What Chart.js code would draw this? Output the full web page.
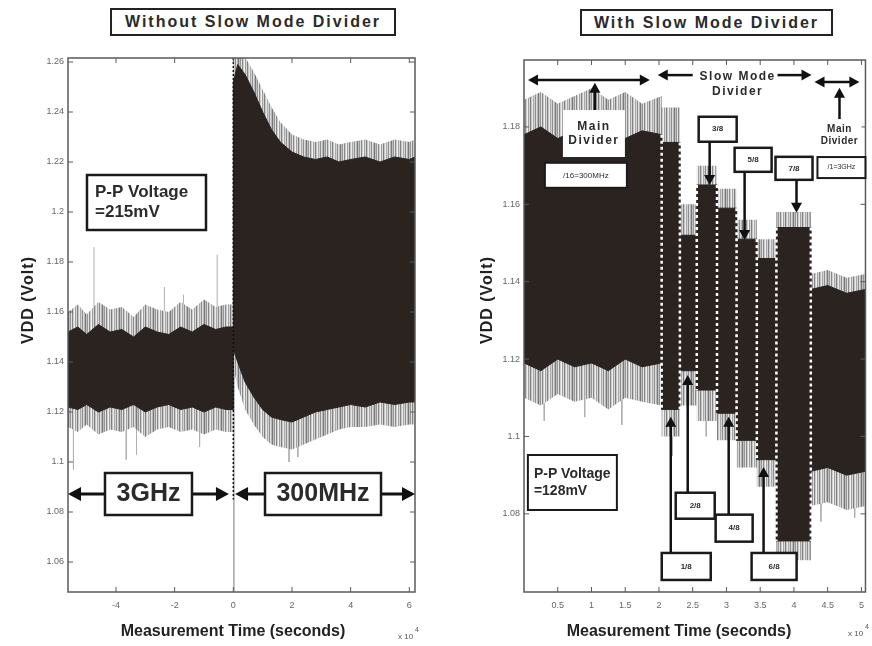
<!DOCTYPE html>
<html>
<head>
<meta charset="utf-8">
<script src="https://cdn.jsdelivr.net/npm/chart.js@4.4.1/dist/chart.umd.min.js"></script>
<style>
  html, body { margin: 0; padding: 0; background: #fff; }
  #wrap { position: relative; width: 872px; height: 646px; overflow: hidden; }
  canvas { position: absolute; top: 0; }
  .title {
    position: absolute; box-sizing: border-box; border: 2px solid #222; background: #fff;
    font: bold 16px "Liberation Sans", Arial, sans-serif; letter-spacing: 2px; color: #2a2a2a;
    display: flex; align-items: center; justify-content: center;
  }
</style>
</head>
<body>
<div id="wrap">
  <canvas id="left" width="436" height="646" style="left:0"></canvas>
  <canvas id="right" width="436" height="646" style="left:436px"></canvas>
  <div class="title" style="left:110px;top:8px;width:286px;height:28px">Without Slow Mode Divider</div>
  <div class="title" style="left:580px;top:9px;width:253px;height:27px">With Slow Mode Divider</div>
</div>
<script>
// time in units of 1e4 s, voltage in V
const leftTime = [-5.64, -5.3, -5.0, -4.6, -4.2, -3.8, -3.4, -3.0, -2.6, -2.2, -1.8, -1.4, -1.0, -0.6, -0.25,
  0, 0, 0.15, 0.4, 0.7, 1.0, 1.3, 1.6, 2.0, 2.4, 2.8, 3.2, 3.6, 4.0, 4.5, 5.0, 5.5, 6.0, 6.2];
const leftDarkTop = [1.152, 1.154, 1.151, 1.155, 1.152, 1.153, 1.150, 1.154, 1.152, 1.151, 1.154, 1.152, 1.155, 1.153, 1.154,
  1.154, 1.252, 1.259, 1.255, 1.248, 1.240, 1.233, 1.228, 1.224, 1.222, 1.221, 1.222, 1.220, 1.221, 1.222, 1.220, 1.222, 1.221, 1.222];
const leftDarkBot = [1.122, 1.121, 1.123, 1.120, 1.122, 1.121, 1.123, 1.120, 1.122, 1.123, 1.121, 1.122, 1.120, 1.122, 1.121,
  1.121, 1.145, 1.140, 1.132, 1.126, 1.121, 1.118, 1.117, 1.116, 1.118, 1.120, 1.121, 1.122, 1.123, 1.122, 1.124, 1.123, 1.124, 1.124];
const leftFringeTop = [1.160, 1.163, 1.159, 1.164, 1.161, 1.162, 1.158, 1.163, 1.161, 1.160, 1.164, 1.161, 1.165, 1.162, 1.163,
  1.163, 1.262, 1.262, 1.262, 1.256, 1.249, 1.242, 1.236, 1.231, 1.229, 1.228, 1.229, 1.227, 1.228, 1.229, 1.227, 1.229, 1.228, 1.229];
const leftFringeBot = [1.114, 1.112, 1.115, 1.111, 1.113, 1.112, 1.114, 1.110, 1.113, 1.114, 1.112, 1.113, 1.111, 1.113, 1.112,
  1.112, 1.138, 1.130, 1.121, 1.115, 1.110, 1.107, 1.106, 1.105, 1.107, 1.109, 1.111, 1.113, 1.114, 1.114, 1.115, 1.114, 1.115, 1.115];
const leftSpikeX = [-5.45, -4.75, -3.65, -3.3, -2.35, -1.7, -1.15, -0.55, 0.02, 1.9, 2.2];
const leftSpikeFrom = [1.12, 1.15, 1.12, 1.12, 1.15, 1.15, 1.12, 1.15, 1.14, 1.115, 1.115];
const leftSpikeTo = [1.097, 1.186, 1.101, 1.103, 1.170, 1.167, 1.106, 1.183, 1.048, 1.100, 1.102];
const leftXTicks = [-4, -2, 0, 2, 4, 6];
const leftYTicks = [1.06, 1.08, 1.1, 1.12, 1.14, 1.16, 1.18, 1.2, 1.22, 1.24, 1.26];

// main divider, then 1/8 ... 7/8 slow mode steps, then back to main divider
const rightTime = [0, 0.25, 0.5, 0.75, 1.0, 1.25, 1.5, 1.75, 2.04, 2.04, 2.31, 2.31, 2.56, 2.56, 2.86, 2.86,
  3.15, 3.15, 3.45, 3.45, 3.74, 3.74, 4.25, 4.25, 4.5, 4.78, 5.06];
const rightDarkTop = [1.178, 1.180, 1.177, 1.179, 1.178, 1.180, 1.177, 1.179, 1.178, 1.176, 1.176, 1.152, 1.152, 1.165, 1.165,
  1.159, 1.159, 1.151, 1.151, 1.146, 1.146, 1.154, 1.154, 1.138, 1.139, 1.137, 1.138];
const rightDarkBot = [1.119, 1.117, 1.120, 1.118, 1.119, 1.117, 1.120, 1.118, 1.119, 1.107, 1.107, 1.117, 1.117, 1.112, 1.112,
  1.106, 1.106, 1.099, 1.099, 1.094, 1.094, 1.073, 1.073, 1.091, 1.092, 1.090, 1.091];
const rightFringeTop = [1.187, 1.189, 1.186, 1.188, 1.190, 1.187, 1.189, 1.186, 1.188, 1.185, 1.185, 1.160, 1.160, 1.170, 1.170,
  1.164, 1.164, 1.156, 1.156, 1.151, 1.151, 1.158, 1.158, 1.142, 1.143, 1.141, 1.142];
const rightFringeBot = [1.110, 1.108, 1.111, 1.109, 1.110, 1.107, 1.110, 1.109, 1.108, 1.100, 1.100, 1.108, 1.108, 1.104, 1.104,
  1.099, 1.099, 1.092, 1.092, 1.087, 1.087, 1.068, 1.068, 1.082, 1.083, 1.081, 1.082];
const rightSwitch = [2.04, 2.31, 2.56, 2.86, 3.15, 3.45, 3.74, 4.25];
const rightSpikeX = [0.3, 0.9, 1.45, 2.2, 2.7, 4.4, 4.9];
const rightSpikeFrom = [1.118, 1.118, 1.118, 1.107, 1.112, 1.091, 1.091];
const rightSpikeTo = [1.104, 1.105, 1.103, 1.095, 1.100, 1.078, 1.079];
const rightXTicks = [0.5, 1, 1.5, 2, 2.5, 3, 3.5, 4, 4.5, 5];
const rightYTicks = [1.08, 1.1, 1.12, 1.14, 1.16, 1.18];

const FONT = '"Liberation Sans", Arial, sans-serif';
const ink = '#2a2320';

const zip = (xs, ys) => xs.map((x, i) => ({ x, y: ys[i] }));

function spikeData(xs, from, to) {
  const out = [];
  xs.forEach((x, i) => out.push({ x, y: from[i] }, { x, y: to[i] }, { x, y: null }));
  return out;
}

// vertical streaks for the noisy fringe around the band
function stripes() {
  const c = document.createElement('canvas');
  c.width = 17; c.height = 4;
  const g = c.getContext('2d');
  [120, 190, 150, 225, 135, 205, 240, 160, 215, 128, 198, 232, 170, 210, 142, 220, 185].forEach((s, i) => {
    g.fillStyle = `rgb(${s},${s},${s})`;
    g.fillRect(i, 0, 1, 4);
  });
  return g.createPattern(c, 'repeat');
}

function drawArrow(ctx, x1, y1, x2, y2, both, L, W) {
  const ang = Math.atan2(y2 - y1, x2 - x1);
  const head = (xb, yb, a) => {
    ctx.beginPath();
    ctx.moveTo(xb, yb);
    ctx.lineTo(xb - L * Math.cos(a) + W * Math.sin(a), yb - L * Math.sin(a) - W * Math.cos(a));
    ctx.lineTo(xb - L * Math.cos(a) - W * Math.sin(a), yb - L * Math.sin(a) + W * Math.cos(a));
    ctx.closePath();
    ctx.fill();
  };
  const sx = both ? x1 + Math.cos(ang) * L / 2 : x1, sy = both ? y1 + Math.sin(ang) * L / 2 : y1;
  ctx.beginPath();
  ctx.moveTo(sx, sy);
  ctx.lineTo(x2 - Math.cos(ang) * L / 2, y2 - Math.sin(ang) * L / 2);
  ctx.stroke();
  head(x2, y2, ang);
  if (both) head(x1, y1, ang + Math.PI);
}

function drawNote(ctx, cx, cy, n) {
  const x0 = cx - n.w / 2, y0 = cy - n.h / 2;
  if (!n.clear) { ctx.fillStyle = '#fff'; ctx.fillRect(x0, y0, n.w, n.h); }
  if (n.border) {
    ctx.lineWidth = n.border; ctx.strokeStyle = '#1a1a1a';
    ctx.strokeRect(x0, y0, n.w, n.h);
  }
  ctx.fillStyle = '#2b2b2b';
  ctx.font = `${n.weight || 'bold'} ${n.size}px ${FONT}`;
  ctx.letterSpacing = (n.ls || 0) + 'px';
  ctx.textBaseline = 'middle';
  const lh = n.size * 1.2;
  n.lines.forEach((t, i) => {
    const ty = cy + (i - (n.lines.length - 1) / 2) * lh;
    if (n.align === 'left') { ctx.textAlign = 'left'; ctx.fillText(t, x0 + n.pad, ty); }
    else { ctx.textAlign = 'center'; ctx.fillText(t, cx, ty); }
  });
  ctx.letterSpacing = '0px';
}

const frame = {
  id: 'frame',
  afterDatasetsDraw(chart, args, o) {
    const { ctx, scales: { x, y } } = chart;
    ctx.save();
    o.dotted.forEach(d => {
      const px = x.getPixelForValue(d.x);
      ctx.strokeStyle = d.color; ctx.lineWidth = d.width; ctx.setLineDash(d.dash);
      ctx.beginPath();
      ctx.moveTo(px, y.getPixelForValue(d.from));
      ctx.lineTo(px, y.getPixelForValue(d.to));
      ctx.stroke();
    });
    ctx.restore();
  },
  afterDraw(chart, args, o) {
    const { ctx, chartArea: a, scales: { x, y } } = chart;
    ctx.save();
    ctx.strokeStyle = '#5a5a5a'; ctx.lineWidth = 1.5;
    ctx.strokeRect(a.left, a.top, a.width, a.height);
    ctx.lineWidth = 1;
    ctx.beginPath();
    x.ticks.forEach(t => {
      const px = x.getPixelForValue(t.value);
      ctx.moveTo(px, a.bottom); ctx.lineTo(px, a.bottom - 5);
      ctx.moveTo(px, a.top); ctx.lineTo(px, a.top + 5);
    });
    y.ticks.forEach(t => {
      const py = y.getPixelForValue(t.value);
      ctx.moveTo(a.left, py); ctx.lineTo(a.left + 5, py);
      ctx.moveTo(a.right, py); ctx.lineTo(a.right - 5, py);
    });
    ctx.stroke();

    ctx.strokeStyle = '#111'; ctx.fillStyle = '#111'; ctx.lineWidth = o.arrowWidth;
    o.arrows.forEach(r => drawArrow(ctx, x.getPixelForValue(r.x1), y.getPixelForValue(r.y1),
      x.getPixelForValue(r.x2), y.getPixelForValue(r.y2), r.both, o.head[0], o.head[1]));
    o.notes.forEach(n => drawNote(ctx, x.getPixelForValue(n.x), y.getPixelForValue(n.y), n));

    // axis titles
    ctx.fillStyle = '#222';
    ctx.font = `bold 16px ${FONT}`;
    ctx.textAlign = 'center'; ctx.textBaseline = 'middle';
    ctx.fillText('Measurement Time (seconds)', o.xTitle[0], o.xTitle[1]);
    ctx.save();
    ctx.translate(o.yTitle[0], o.yTitle[1]);
    ctx.rotate(-Math.PI / 2);
    ctx.letterSpacing = '1px';
    ctx.fillText('VDD (Volt)', 0, 0);
    ctx.restore();
    // x10^4 multiplier
    ctx.fillStyle = '#555';
    ctx.font = `8px ${FONT}`;
    ctx.textAlign = 'left';
    ctx.fillText('x 10', o.expo[0], o.expo[1]);
    ctx.font = `7px ${FONT}`;
    ctx.fillText('4', o.expo[0] + 17, o.expo[1] - 7);
    ctx.restore();
  }
};

function build(id, s) {
  const tickFont = { size: 9, family: FONT };
  const label = v => String(+Number(v).toFixed(2));
  return new Chart(document.getElementById(id), {
    type: 'line',
    data: {
      datasets: [
        { data: zip(s.time, s.darkTop), borderColor: ink, borderWidth: 1, fill: false },
        { data: zip(s.time, s.darkBot), borderColor: ink, borderWidth: 1, backgroundColor: ink, fill: 0 },
        { data: zip(s.time, s.fringeTop), borderWidth: 0, fill: false },
        { data: zip(s.time, s.fringeBot), borderWidth: 0, backgroundColor: stripes(), fill: 2 },
        { data: s.spikes, borderColor: '#b0b0b0', borderWidth: 1, fill: false, spanGaps: false }
      ]
    },
    options: {
      responsive: false,
      animation: false,
      devicePixelRatio: 1,
      layout: { padding: s.pad },
      elements: { point: { radius: 0 }, line: { tension: 0 } },
      plugins: { legend: { display: false }, tooltip: { enabled: false }, frame: s.frame },
      scales: {
        x: {
          type: 'linear', min: s.xMin, max: s.xMax,
          afterFit: sc => { sc.height = 54; },
          afterBuildTicks: sc => { sc.ticks = s.xTicks.map(v => ({ value: v })); },
          grid: { display: false, drawTicks: false },
          border: { display: false },
          ticks: { padding: 8, font: tickFont, color: '#666', maxRotation: 0, autoSkip: false, callback: label }
        },
        y: {
          type: 'linear', min: s.yMin, max: s.yMax,
          afterFit: sc => { sc.width = s.yWidth; },
          afterBuildTicks: sc => { sc.ticks = s.yTicks.map(v => ({ value: v })); },
          grid: { display: false, drawTicks: false },
          border: { display: false },
          ticks: { padding: 4, font: tickFont, color: '#666', autoSkip: false, callback: label }
        }
      }
    },
    plugins: [frame]
  });
}

build('left', {
  time: leftTime, darkTop: leftDarkTop, darkBot: leftDarkBot,
  fringeTop: leftFringeTop, fringeBot: leftFringeBot,
  spikes: spikeData(leftSpikeX, leftSpikeFrom, leftSpikeTo),
  xMin: -5.636, xMax: 6.194, yMin: 1.048, yMax: 1.2616,
  xTicks: leftXTicks, yTicks: leftYTicks,
  yWidth: 68, pad: { left: 0, top: 58, right: 21, bottom: 0 },
  frame: {
    dotted: [{ x: 0, from: 1.2616, to: 1.085, color: '#111', width: 1.5, dash: [2, 2] }],
    arrowWidth: 3, head: [13, 7],
    arrows: [
      { x1: -5.636, y1: 1.0872, x2: -0.15, y2: 1.0872, both: true },
      { x1: 0.06, y1: 1.0872, x2: 6.194, y2: 1.0872, both: true }
    ],
    notes: [
      { x: -2.96, y: 1.2038, w: 119, h: 55, lines: ['P-P Voltage', '=215mV'], size: 17, border: 2.5, align: 'left', pad: 8 },
      { x: -2.892, y: 1.0872, w: 87, h: 42, lines: ['3GHz'], size: 25, border: 2.5 },
      { x: 3.058, y: 1.0872, w: 116, h: 42, lines: ['300MHz'], size: 25, border: 2.5 }
    ],
    xTitle: [233, 632], yTitle: [29, 300], expo: [398, 637]
  }
});

const rightDotted = rightSwitch.map(s => {
  const i = rightTime.indexOf(s);
  return {
    x: s,
    from: Math.max(rightDarkTop[i], rightDarkTop[i + 1]),
    to: Math.min(rightDarkBot[i], rightDarkBot[i + 1]),
    color: '#fff', width: 2.5, dash: [3, 3]
  };
});

build('right', {
  time: rightTime, darkTop: rightDarkTop, darkBot: rightDarkBot,
  fringeTop: rightFringeTop, fringeBot: rightFringeBot,
  spikes: spikeData(rightSpikeX, rightSpikeFrom, rightSpikeTo),
  xMin: 0, xMax: 5.06, yMin: 1.0598, yMax: 1.1973,
  xTicks: rightXTicks, yTicks: rightYTicks,
  yWidth: 88, pad: { left: 0, top: 60, right: 6, bottom: 0 },
  frame: {
    dotted: rightDotted,
    arrowWidth: 2.5, head: [10, 5.5],
    arrows: [
      { x1: 0.059, y1: 1.1921, x2: 1.864, y2: 1.1921, both: true },
      { x1: 1.05, y1: 1.1839, x2: 1.05, y2: 1.1914 },
      { x1: 2.5, y1: 1.1934, x2: 1.982, y2: 1.1934 },
      { x1: 3.757, y1: 1.1934, x2: 4.26, y2: 1.1934 },
      { x1: 4.305, y1: 1.1916, x2: 4.97, y2: 1.1916, both: true },
      { x1: 4.675, y1: 1.1818, x2: 4.675, y2: 1.1901 },
      { x1: 2.751, y1: 1.1761, x2: 2.751, y2: 1.165 },
      { x1: 3.269, y1: 1.1684, x2: 3.269, y2: 1.1508 },
      { x1: 4.038, y1: 1.1663, x2: 4.038, y2: 1.1578 },
      { x1: 2.426, y1: 1.0854, x2: 2.426, y2: 1.1159 },
      { x1: 3.033, y1: 1.0797, x2: 3.033, y2: 1.1051 },
      { x1: 2.175, y1: 1.0699, x2: 2.175, y2: 1.1051 },
      { x1: 3.55, y1: 1.0699, x2: 3.55, y2: 1.0921 }
    ],
    notes: [
      { x: 1.036, y: 1.1783, w: 62, h: 47, lines: ['Main', 'Divider'], size: 12, border: 0, ls: 1.5 },
      { x: 0.917, y: 1.1675, w: 82, h: 25, lines: ['/16=300MHz'], size: 8, border: 2, weight: 'normal' },
      { x: 3.166, y: 1.1911, w: 80, h: 36, lines: ['Slow Mode', 'Divider'], size: 12, border: 0, clear: true, ls: 1.5 },
      { x: 4.675, y: 1.1779, w: 44, h: 32, lines: ['Main', 'Divider'], size: 10, border: 0, ls: 0.5 },
      { x: 4.704, y: 1.1695, w: 48, h: 21, lines: ['/1=3GHz'], size: 7, border: 2, weight: 'normal' },
      { x: 2.870, y: 1.1794, w: 38, h: 25, lines: ['3/8'], size: 8, border: 2.5 },
      { x: 3.395, y: 1.1715, w: 37, h: 24, lines: ['5/8'], size: 8, border: 2.5 },
      { x: 4.001, y: 1.1693, w: 37, h: 23, lines: ['7/8'], size: 8, border: 2.5 },
      { x: 2.537, y: 1.0821, w: 39, h: 26, lines: ['2/8'], size: 8, border: 2.5 },
      { x: 3.114, y: 1.0763, w: 37, h: 27, lines: ['4/8'], size: 8, border: 2.5 },
      { x: 2.404, y: 1.0664, w: 49, h: 27, lines: ['1/8'], size: 8, border: 2.5 },
      { x: 3.706, y: 1.0664, w: 45, h: 27, lines: ['6/8'], size: 8, border: 2.5 },
      { x: 0.717, y: 1.0881, w: 89, h: 55, lines: ['P-P Voltage', '=128mV'], size: 14, border: 2, align: 'left', pad: 6 }
    ],
    xTitle: [243, 632], yTitle: [52, 300], expo: [412, 634]
  }
});
</script>
</body>
</html>
